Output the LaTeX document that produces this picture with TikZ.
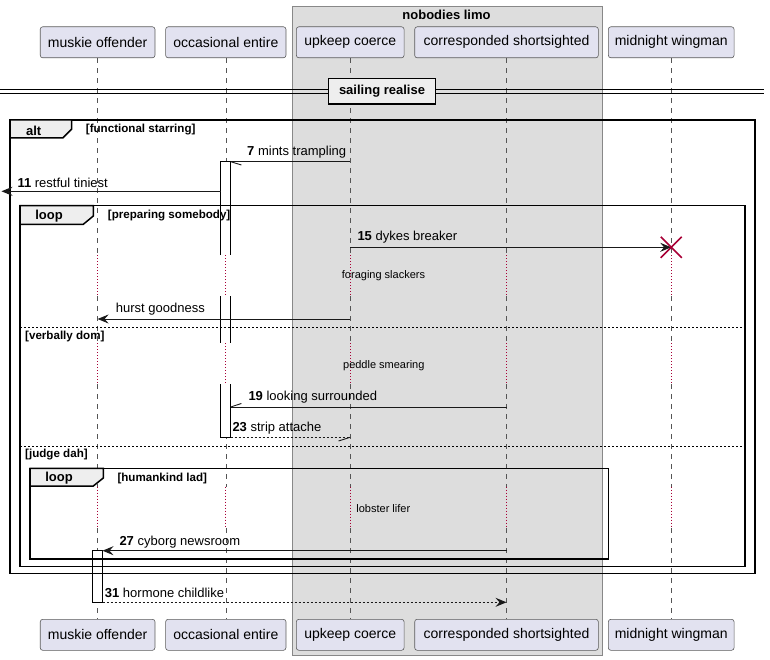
\documentclass[tikz,border=0pt]{standalone}
\usepackage{fontspec}
\setmainfont{Liberation Sans}
\usetikzlibrary{arrows.meta}
\definecolor{partfill}{HTML}{E2E2F0}
\definecolor{partline}{HTML}{5B5B5B}
\definecolor{grpfill}{HTML}{DDDDDD}
\definecolor{grpline}{HTML}{888888}
\definecolor{tabfill}{HTML}{EEEEEE}
\definecolor{lifecol}{HTML}{555555}
\definecolor{delayred}{HTML}{A80036}
\tikzset{
  part/.style={draw=partline, fill=partfill, rounded corners=2.5pt, line width=0.6pt,
    inner sep=0pt, minimum height=31pt, font=\fontsize{14}{16}\selectfont},
  life/.style={draw=lifecol, line width=0.6pt, dash pattern=on 5pt off 5pt},
  delay/.style={draw=delayred, line width=0.8pt, dash pattern=on 1pt off 2pt},
  framebox/.style={draw=black, line width=1.5pt},
  tabbox/.style={draw=black, line width=1.5pt, fill=tabfill},
  msg/.style={draw=black!90, line width=0.9pt},
  retmsg/.style={msg, dash pattern=on 2pt off 2pt},
  head/.style={-{Stealth[length=11pt,width=9pt,inset=4pt]}},
  mlabel/.style={anchor=west, inner sep=0pt, font=\fontsize{13}{15}\selectfont},
  cond/.style={anchor=west, inner sep=0pt, font=\bfseries\fontsize{11.6}{13}\selectfont},
  tabtxt/.style={inner sep=0pt, font=\bfseries\fontsize{13}{15}\selectfont},
  delaytxt/.style={inner sep=0pt, font=\fontsize{11}{13}\selectfont},
  sepline/.style={draw=black, line width=0.8pt, dash pattern=on 2pt off 2pt},
  actbar/.style={draw=black, line width=0.8pt},
}
\begin{document}
\begin{tikzpicture}[x=1pt,y=-1pt]
\useasboundingbox (0,0) rectangle (770,660);

% box around the grouped participants
\filldraw[fill=grpfill, draw=grpline, line width=0.8pt] (292.7,6.3) rectangle (602.3,655);
\node[tabtxt] (grp) at (446.5,14.7) {nobodies limo};

% participants, top and bottom
\node[part, minimum width=114.7pt] (mo) at (97.6,42.3) {muskie offender};
\node[part, minimum width=120.3pt] (oe) at (225.8,42.3) {occasional entire};
\node[part, minimum width=107.7pt] (uc) at (350.2,42.3) {upkeep coerce};
\node[part, minimum width=183.6pt] (cs) at (506.5,42.3) {corresponded shortsighted};
\node[part, minimum width=125.7pt] (mw) at (671.2,42.3) {midnight wingman};
\node[part, minimum width=114.7pt] (mob) at (97.6,634.8) {muskie offender};
\node[part, minimum width=120.3pt] (oeb) at (225.8,634.8) {occasional entire};
\node[part, minimum width=107.7pt] (ucb) at (350.2,634.8) {upkeep coerce};
\node[part, minimum width=183.6pt] (csb) at (506.5,634.8) {corresponded shortsighted};
\node[part, minimum width=125.7pt] (mwb) at (671.2,634.8) {midnight wingman};

% lifelines, dotted through the delays
\foreach \p/\q in {mo/mob,oe/oeb,uc/ucb,cs/csb,mw/mwb}{
  \draw[life] (\p.south) -- (\p |- 0,255);
  \draw[delay] (\p |- 0,255) -- (\p |- 0,296);
  \draw[life] (\p |- 0,296) -- (\p |- 0,343.3);
  \draw[delay] (\p |- 0,343.3) -- (\p |- 0,384.3);
  \draw[life] (\p |- 0,384.3) -- (\p |- 0,486.5);
  \draw[delay] (\p |- 0,486.5) -- (\p |- 0,528.3);
  \draw[life] (\p |- 0,528.3) -- (\q.north);
}

% activation of occasional entire (broken at the delays)
\fill[white] (220.7,161.7) rectangle (230.7,255);
\fill[white] (220.7,296) rectangle (230.7,343.3);
\fill[white] (220.7,384.3) rectangle (230.7,437.3);
\draw[actbar] (220.7,255) -- (220.7,161.7) -- (230.7,161.7) -- (230.7,255);
\draw[actbar] (220.7,296) -- (220.7,343.3) (230.7,296) -- (230.7,343.3);
\draw[actbar] (220.7,384.3) -- (220.7,437.3) -- (230.7,437.3) -- (230.7,384.3);

% activation of muskie offender
\filldraw[actbar, fill=white] (92.5,550.7) rectangle (102.5,602.3);

% divider
\draw[line width=1pt] (0,90) -- (764,90);
\draw[line width=1pt] (0,93.3) -- (764,93.3);
\node[draw=black, line width=1.5pt, fill=tabfill, minimum width=106.6pt, minimum height=25.7pt,
  inner sep=0pt, font=\bfseries\fontsize{13}{15}\selectfont] (div) at (382,91.2) {sailing realise};

% alt frame
\draw[framebox] (10,120) rectangle (755,573.3);
\draw[tabbox] (10,120) -- (71.7,120) -- (71.7,129) -- (62.7,138) -- (10,138) -- cycle;
\node[tabtxt] (altlbl) at (33.7,130.5) {alt};
\node[cond] (altc) at (85.7,130) {[functional starring]};

% outer loop frame
\draw[framebox] (20,205.7) rectangle (745,566.7);
\draw[tabbox] (20,205.7) -- (93.3,205.7) -- (93.3,216) -- (83.3,224.3) -- (20,224.3) -- cycle;
\node[tabtxt] (loopa) at (49,216.3) {loop};
\node[cond] (loopac) at (107.7,216) {[preparing somebody]};

% alternative separators
\draw[sepline] (20,327.7) -- (745,327.7);
\node[cond] (verb) at (25,336.3) {[verbally dom]};
\draw[sepline] (20,446.3) -- (745,446.3);
\node[cond] (judge) at (25,454.5) {[judge dah]};

% inner loop frame
\draw[framebox] (30,468.3) rectangle (608.7,559);
\draw[tabbox] (30,468.3) -- (103.3,468.3) -- (103.3,478) -- (93.3,486) -- (30,486) -- cycle;
\node[tabtxt] (loopb) at (59,478.5) {loop};
\node[cond] (loopbc) at (117.3,478.3) {[humankind lad]};

% delay texts
\node[delaytxt] (d1) at (383.5,276) {foraging slackers};
\node[delaytxt] (d2) at (383.8,365.7) {peddle smearing};
\node[delaytxt] (d3) at (383.3,508.3) {lobster lifer};

% message endpoints
\coordinate (a7) at (uc |- 0,161.7);   \coordinate (b7) at (230.7,161.7);
\coordinate (a11) at (220.7,191.3);    \coordinate (b11) at (1.5,191.3);
\coordinate (a15) at (uc |- 0,247.3);  \coordinate (b15) at (mw |- 0,247.3);
\coordinate (ah) at (uc |- 0,319);     \coordinate (bh) at (mo |- 0,319);
\coordinate (a19) at (cs |- 0,407);    \coordinate (b19) at (230.7,407);
\coordinate (a23) at (230.7,437.3);    \coordinate (b23) at (uc |- 0,437.3);
\coordinate (a27) at (cs |- 0,550.7);  \coordinate (b27) at (102.5,550.7);
\coordinate (a31) at (102.5,602.3);    \coordinate (b31) at (cs |- 0,602.3);

% messages
\draw[msg] (a7) -- (b7);
\draw[msg] (b7) -- ++(10.7,3.3);
\node[mlabel] (l7) at (247,151.7) {\textbf{7} mints trampling};

\draw[msg, head] (a11) -- (b11);
\node[mlabel] (l11) at (17.3,182.7) {\textbf{11} restful tiniest};

\draw[msg, head] (a15) -- (b15);
\node[mlabel] (l15) at (357.3,237.3) {\textbf{15} dykes breaker};
\draw[delayred, line width=1.6pt] (b15) ++(-10.5,-10.5) -- ++(21,21);
\draw[delayred, line width=1.6pt] (b15) ++(-10.5,10.5) -- ++(21,-21);

\draw[msg, head] (ah) -- (bh);
\node[mlabel] (lh) at (115.7,309.3) {hurst goodness};

\draw[msg] (a19) -- (b19);
\draw[msg] (b19) -- ++(10.7,-3.5);
\node[mlabel] (l19) at (248.3,397.3) {\textbf{19} looking surrounded};

\draw[retmsg] (a23) -- (b23);
\draw[msg] (b23) -- ++(-11.7,3.7);
\node[mlabel] (l23) at (232.3,428.3) {\textbf{23} strip attache};

\draw[msg, head] (a27) -- (b27);
\node[mlabel] (l27) at (119.3,541.7) {\textbf{27} cyborg newsroom};

\draw[retmsg, head] (a31) -- (b31);
\node[mlabel] (l31) at (104.7,593.3) {\textbf{31} hormone childlike};
\end{tikzpicture}
\end{document}
